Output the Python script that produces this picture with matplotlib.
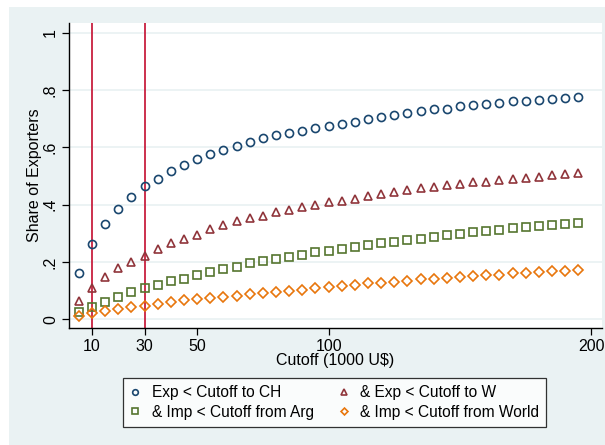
import matplotlib
matplotlib.use("Agg")
import matplotlib.pyplot as plt
from matplotlib.patches import Rectangle

plt.rcParams['font.family'] = ['Liberation Sans', 'DejaVu Sans']

cutoff = list(range(5, 200, 5))

exp_ch = [0.16, 0.262, 0.333, 0.386, 0.427, 0.465, 0.491, 0.517, 0.540, 0.559,
          0.578, 0.592, 0.604, 0.618, 0.633, 0.643, 0.651, 0.658, 0.667, 0.676,
          0.682, 0.689, 0.698, 0.705, 0.712, 0.719, 0.726, 0.734, 0.735, 0.745,
          0.748, 0.753, 0.755, 0.761, 0.763, 0.767, 0.769, 0.774, 0.777]

exp_w = [0.064, 0.108, 0.148, 0.177, 0.198, 0.221, 0.244, 0.267, 0.279, 0.295,
         0.316, 0.329, 0.343, 0.352, 0.361, 0.376, 0.381, 0.391, 0.399, 0.408,
         0.414, 0.421, 0.430, 0.436, 0.443, 0.453, 0.459, 0.463, 0.469, 0.473,
         0.479, 0.481, 0.485, 0.491, 0.494, 0.498, 0.505, 0.508, 0.512]

imp_arg = [0.024, 0.043, 0.061, 0.079, 0.095, 0.110, 0.121, 0.134, 0.142, 0.153,
           0.166, 0.176, 0.183, 0.196, 0.203, 0.210, 0.216, 0.225, 0.233, 0.239,
           0.244, 0.251, 0.259, 0.265, 0.270, 0.276, 0.281, 0.286, 0.293, 0.296,
           0.304, 0.308, 0.312, 0.318, 0.323, 0.325, 0.330, 0.333, 0.337]

imp_world = [0.010, 0.020, 0.028, 0.036, 0.043, 0.045, 0.054, 0.061, 0.066, 0.069,
             0.073, 0.078, 0.080, 0.087, 0.092, 0.095, 0.100, 0.103, 0.108, 0.113,
             0.115, 0.119, 0.125, 0.127, 0.130, 0.133, 0.139, 0.139, 0.143, 0.147,
             0.150, 0.154, 0.155, 0.160, 0.162, 0.164, 0.167, 0.169, 0.171]

labels = ["Exp < Cutoff to CH", "& Exp < Cutoff to W",
          "& Imp < Cutoff from Arg", "& Imp < Cutoff from World"]
vlines = [10, 30]
xticks = [10, 30, 50, 100, 200]
yticks = [0, 0.2, 0.4, 0.6, 0.8, 1.0]
yticklabels = ["0", ".2", ".4", ".6", ".8", "1"]

bg = '#EAF2F3'
fs = 11.5
fig = plt.figure(figsize=(6.05, 4.45), dpi=100)
fig.patch.set_facecolor('white')
fig.add_artist(Rectangle((9/605, 0), 1 - 9/605, 1 - 7/445, transform=fig.transFigure,
                         facecolor=bg, edgecolor='none', zorder=-10))

ax = fig.add_axes([69/605, 1 - 328/445, (602 - 69)/605, (328 - 23)/445])
ax.set_facecolor('white')

for v in vlines:
    ax.axvline(v, color='#C8203F', lw=1.3, zorder=1)

ms = 5.8
mew = 1.2
h1, = ax.plot(cutoff, exp_ch, 'o', ms=ms, mfc='none', mec='#1A476F', mew=mew, zorder=3)
h2, = ax.plot(cutoff, exp_w, '^', ms=ms+0.6, mfc='none', mec='#90353B', mew=mew, zorder=3)
h3, = ax.plot(cutoff, imp_arg, 's', ms=ms-0.6, mfc='none', mec='#55752F', mew=mew, zorder=3)
h4, = ax.plot(cutoff, imp_world, 'D', ms=ms-0.8, mfc='none', mec='#E8760C', mew=mew, zorder=3)

ax.set_xlim(1.25, 204)
ax.set_ylim(-0.031, 1.035)
ax.set_xticks(xticks)
ax.set_xticklabels([str(t) for t in xticks])
ax.set_yticks(yticks)
ax.set_yticklabels(yticklabels, rotation=90, va='center')
ax.yaxis.grid(True, color=bg, lw=1.3, zorder=0)
ax.set_axisbelow(True)
for s in ['top', 'right']:
    ax.spines[s].set_visible(False)
for s in ['left', 'bottom']:
    ax.spines[s].set_color('black')
    ax.spines[s].set_linewidth(1.0)
ax.tick_params(axis='both', length=5, width=0.9, labelsize=fs, colors='black', pad=3)
ax.set_xlabel("Cutoff (1000 U$)", fontsize=fs, labelpad=-1)
ax.set_ylabel("Share of Exporters", fontsize=fs, labelpad=1)

handles = [h1, h3, h2, h4]
leg_labels = [labels[0], labels[2], labels[1], labels[3]]
leg = fig.legend(handles, leg_labels,
                 loc='center', bbox_to_anchor=(334.5/605, 1 - 402.5/445), ncol=2,
                 fontsize=11.2, frameon=True, fancybox=False, edgecolor='black',
                 handlelength=0.7, handletextpad=0.7, columnspacing=1.6,
                 borderpad=0.45, labelspacing=0.3, markerscale=0.7)
leg.get_frame().set_linewidth(0.9)
fig.savefig("out.png", dpi=100, facecolor=fig.get_facecolor())
